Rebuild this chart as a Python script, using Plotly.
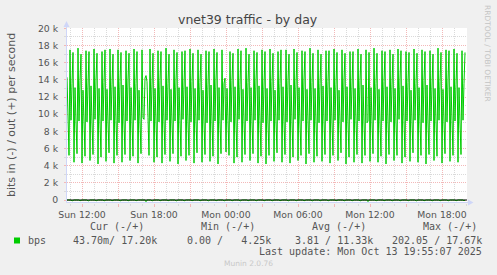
import plotly.graph_objects as go
import pandas as pd

# ---------------- data ----------------
start_time = "2025-10-12 10:45"
x_range = ["2025-10-12 10:45", "2025-10-13 20:05"]

# out traffic (bits/s, in thousands), one value per 5 minutes
out_k = [
    14.3, 9.2,
    5.2, 17.5, 9.3, 13.6, 17.2, 4.4, 13.1, 9.1,
    5.4, 17.7, 9.2, 13.9, 17.0, 4.3, 12.8, 9.2,
    5.1, 17.4, 9.1, 13.4, 17.3, 4.6, 13.3, 9.0,
    5.3, 17.6, 9.4, 14.1, 17.1, 4.2, 13.0, 9.2,
    5.0, 17.3, 9.2, 13.7, 17.5, 4.5, 12.9, 9.1,
    5.5, 17.6, 9.3, 13.5, 17.0, 4.3, 13.2, 9.3,
    5.2, 17.5, 9.0, 13.8, 17.2, 4.4, 13.4, 9.0,
    5.3, 17.4, 9.2, 14.0, 17.1, 4.6, 13.1, 9.2,
    5.1, 17.6, 9.3, 13.6, 17.3, 4.3, 12.8, 9.1,
    5.4, 17.5, 9.6, 9.4, 14.2, 14.5, 13.8, 9.6,
    5.2, 17.6, 9.2, 13.5, 17.1, 4.4, 13.0, 9.2,
    5.0, 17.4, 9.1, 13.9, 17.3, 4.3, 13.3, 9.1,
    5.3, 17.7, 9.3, 13.6, 17.0, 4.5, 12.9, 9.0,
    5.4, 17.5, 9.2, 14.0, 17.2, 4.2, 13.1, 9.3,
    5.1, 17.3, 9.4, 13.4, 17.4, 4.6, 13.2, 9.1,
    5.2, 17.6, 9.1, 13.8, 17.1, 4.3, 13.0, 9.2,
    5.5, 17.5, 9.3, 13.7, 17.0, 4.4, 12.8, 9.0,
    5.3, 17.4, 9.0, 13.5, 17.3, 4.5, 13.4, 9.2,
    5.1, 17.6, 9.2, 14.1, 17.2, 4.2, 13.1, 9.1,
    5.4, 17.5, 9.3, 13.6, 14.2, 5.6, 13.0, 9.3,
    5.2, 17.3, 9.1, 13.9, 17.1, 4.3, 13.2, 9.0,
    5.0, 17.6, 9.4, 13.5, 17.4, 4.4, 12.9, 9.2,
    5.3, 17.7, 9.2, 13.7, 17.0, 4.6, 13.1, 9.1,
    5.4, 17.4, 9.3, 14.0, 17.2, 4.3, 13.3, 9.3,
    5.1, 17.5, 9.0, 13.4, 17.3, 4.2, 13.0, 9.0,
    5.2, 17.6, 9.2, 13.8, 17.1, 4.5, 12.8, 9.2,
    5.5, 17.3, 9.3, 13.6, 17.5, 4.4, 13.2, 9.1,
    5.3, 17.5, 9.1, 13.9, 17.0, 4.3, 13.4, 9.2,
    5.0, 17.6, 9.4, 13.5, 17.2, 4.6, 13.1, 9.0,
    5.2, 17.4, 9.2, 14.1, 17.3, 4.2, 12.9, 9.3,
    5.4, 17.7, 9.3, 13.7, 17.1, 4.4, 13.0, 9.1,
    5.1, 17.5, 9.0, 13.6, 17.0, 4.5, 13.3, 9.2,
    5.3, 17.4, 9.2, 13.8, 17.4, 4.3, 13.1, 9.0,
    5.2, 17.6, 9.3, 13.5, 17.2, 4.6, 12.8, 9.2,
    5.5, 17.5, 9.1, 14.0, 17.1, 4.2, 13.2, 9.1,
    5.0, 17.3, 9.4, 13.4, 17.3, 4.4, 13.0, 9.3,
    5.3, 17.6, 9.2, 13.9, 17.0, 4.3, 13.4, 9.0,
    5.2, 17.5, 9.0, 9.2, 17.2, 4.5, 13.1, 9.2,
    5.4, 17.7, 9.3, 13.6, 17.1, 4.4, 12.9, 9.1,
    5.1, 17.4, 9.2, 13.8, 17.3, 4.2, 13.2, 9.2,
    5.3, 17.5, 9.1, 13.5, 17.0, 4.6, 13.0, 9.0,
    5.2, 17.6, 9.4, 14.1, 17.4, 4.3, 13.3, 9.3,
    5.0, 17.3, 9.2, 13.7, 17.2, 4.5, 12.8, 9.1,
    5.5, 17.6, 9.3, 13.6, 17.1, 4.4, 13.1, 9.2,
    5.2, 17.5, 9.0, 13.9, 17.3, 4.2, 13.4, 9.0,
    5.3, 17.4, 9.2, 13.4, 17.0, 4.6, 13.0, 9.2,
    5.1, 17.7, 9.3, 13.8, 17.2, 4.3, 12.9, 9.1,
    5.4, 17.5, 9.1, 14.0, 17.4, 4.5, 13.2, 9.3,
    5.2, 17.6, 9.2, 13.5, 17.1, 4.4, 13.1, 9.0,
    5.3, 17.4, 9.3, 13.6, 17.2,
]

# in traffic (bits/s): sample index -> value (all other samples are 0)
in_idx = [5, 13, 21, 29, 37, 45, 53, 61, 69, 79, 85, 93, 101, 109, 117, 125,
          133, 141, 149, 157, 165, 173, 181, 189, 197, 205, 213, 221, 229, 237,
          245, 253, 261, 269, 277, 285, 293, 301, 309, 317, 325, 333, 341, 349,
          357, 365, 373, 381, 389, 397]
in_bps = [110, 95, 120, 100, 105, 90, 115, 100, 95, 202, 110, 100, 95, 120, 105, 90,
          100, 115, 95, 110, 100, 120, 95, 105, 100, 110, 90, 115, 100, 95,
          120, 105, 100, 95, 110, 100, 115, 190, 100, 95, 110, 105, 100, 120,
          95, 110, 100, 105, 95, 100]

x_tick_vals = ["2025-10-12 12:00", "2025-10-12 15:00", "2025-10-12 18:00",
               "2025-10-12 21:00", "2025-10-13 00:00", "2025-10-13 03:00",
               "2025-10-13 06:00", "2025-10-13 09:00", "2025-10-13 12:00",
               "2025-10-13 15:00", "2025-10-13 18:00"]
x_tick_text = ["Sun 12:00", "", "Sun 18:00", "", "Mon 00:00", "",
               "Mon 06:00", "", "Mon 12:00", "", "Mon 18:00"]
y_tick_vals = [0, 2000, 4000, 6000, 8000, 10000, 12000, 14000, 16000, 18000, 20000]
y_tick_text = ["0", "2 k", "4 k", "6 k", "8 k", "10 k", "12 k", "14 k", "16 k", "18 k", "20 k"]

title = "vnet39 traffic - by day"
y_title = "bits in (-) / out (+) per second"
legend_label = "bps"
legend_headers = ["Cur (-/+)", "Min (-/+)", "Avg (-/+)", "Max (-/+)"]
legend_values = ["43.70m/ 17.20k", "0.00 /   4.25k", "3.81 / 11.33k", "202.05 / 17.67k"]
last_update = "Last update: Mon Oct 13 19:55:07 2025"
watermark = "Munin 2.0.76"
side_text = "RRDTOOL / TOBI OETIKER"

# ---------------- build ----------------
times = pd.date_range(start_time, periods=len(out_k), freq="5min")
out_vals = [v * 1000 for v in out_k]
in_vals = [0.0] * len(out_k)
for i, v in zip(in_idx, in_bps):
    in_vals[i] = -v

W, H = 497, 275
L, R, T, B = 67, 30, 28, 72
PW, PH = W - L - R, H - T - B


def px(x):
    return (x - L) / PW


def py(y):
    return (H - B - y) / PH


GREEN = "#00CC00"
FONT = "DejaVu Sans"
MONO = "DejaVu Sans Mono"
TXT = "#555555"
MGRID = "#F3B8B8"
GRID = "#DADADA"
AXIS = "#CFD6F8"

fig = go.Figure()
fig.add_trace(go.Scatter(x=times, y=in_vals, mode="lines",
                         line=dict(color=GREEN, width=1), hoverinfo="skip"))
fig.add_trace(go.Scatter(x=times, y=out_vals, mode="lines",
                         line=dict(color=GREEN, width=1), hoverinfo="skip"))

shapes = [
    # zero line
    dict(type="line", xref="paper", yref="y", x0=0, x1=1, y0=0, y1=0,
         line=dict(color="#000000", width=1.2), layer="above"),
    # axes
    dict(type="line", xref="paper", yref="paper", x0=px(66.5), x1=px(469), y0=py(202.5), y1=py(202.5),
         line=dict(color=AXIS, width=1)),
    dict(type="line", xref="paper", yref="paper", x0=px(66.5), x1=px(66.5), y0=py(202.5), y1=py(25),
         line=dict(color=AXIS, width=1)),
    dict(type="path", xref="paper", yref="paper",
         path=f"M {px(468)} {py(199.5)} L {px(473.5)} {py(202.5)} L {px(468)} {py(205.5)} Z",
         fillcolor=AXIS, line=dict(width=0)),
    dict(type="path", xref="paper", yref="paper",
         path=f"M {px(63.5)} {py(27)} L {px(66.5)} {py(21)} L {px(69.5)} {py(27)} Z",
         fillcolor=AXIS, line=dict(width=0)),
    # legend swatch
    dict(type="rect", xref="paper", yref="paper", x0=px(14), x1=px(20), y0=py(243.5), y1=py(237.5),
         fillcolor=GREEN, line=dict(width=0)),
]

ann = []


def text(s, x, y, size, color=TXT, family=FONT, xanchor="left", angle=0):
    ann.append(dict(text=s, x=px(x), y=py(y), xref="paper", yref="paper",
                    showarrow=False, xanchor=xanchor, yanchor="middle",
                    font=dict(family=family, size=size, color=color),
                    textangle=angle, borderpad=0))


text(title, 248, 19.5, 12.5, color="#444444", xanchor="center")
text(y_title, 11, 115, 11, xanchor="center", angle=-90)
text(side_text, 488, 53, 7.5, color="#C4C4C4", xanchor="center", angle=90)
for s, x in zip(legend_headers, [89, 200.7, 311.7, 422.7]):
    text(s, x - 0.5, 226.7, 10, family=MONO)
text(legend_label, 26.5, 240, 10, family=MONO)
for s, x in zip(legend_values, [72.2, 186.2, 293.8, 391.2]):
    text(s, x, 240, 10, family=MONO)
text(last_update, 483, 251.7, 10, family=MONO, xanchor="right")
text(watermark, 248, 263, 7.5, color="#C8C8C8", xanchor="center")

fig.update_layout(
    width=W, height=H, margin=dict(l=L, r=R, t=T, b=B, autoexpand=False),
    paper_bgcolor="#F0F0F0", plot_bgcolor="#FFFFFF",
    showlegend=False, shapes=shapes, annotations=ann,
    font=dict(family=FONT, color=TXT),
)
fig.update_xaxes(
    type="date", range=x_range, tickvals=x_tick_vals, ticktext=x_tick_text,
    showgrid=True, gridcolor=MGRID, griddash="1px,1px", gridwidth=1,
    ticks="outside", ticklen=3, tickcolor=MGRID, tickfont=dict(size=9.3, color=TXT),
    showline=False, zeroline=False,
    minor=dict(dtick=3600000, tick0="2025-10-12 00:00", showgrid=True, gridcolor=GRID,
               griddash="1px,1px", ticks="outside", ticklen=2, tickcolor=GRID),
)
fig.update_yaxes(
    range=[-350, 20047], tickvals=y_tick_vals, ticktext=y_tick_text,
    showgrid=True, gridcolor=MGRID, griddash="1px,1px", gridwidth=1,
    ticks="outside", ticklen=2, tickcolor=MGRID, tickfont=dict(size=9.3, color=TXT),
    ticklabelstandoff=4,
    showline=False, zeroline=False,
    minor=dict(dtick=1000, showgrid=True, gridcolor=GRID, griddash="1px,1px",
               ticks="outside", ticklen=2, tickcolor=GRID),
)

fig.write_html("out.html")
